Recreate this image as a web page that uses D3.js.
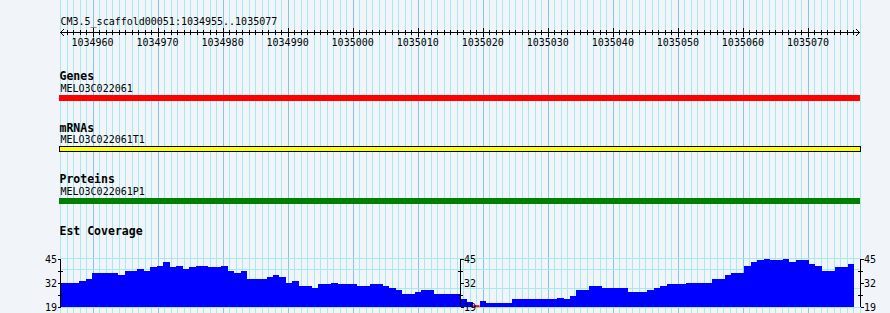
<!DOCTYPE html>
<html>
<head>
<meta charset="utf-8">
<script src="https://cdn.jsdelivr.net/npm/d3@7"></script>
<style>
body{margin:0;background:#f1f5fa}
svg{display:block;font-family:"DejaVu Sans Mono",monospace}
</style>
</head>
<body>
<svg id="chart" width="890" height="313"></svg>
<script>
var refName = 'CM3.5_scaffold00051'
var regionStart = 1034955, regionEnd = 1035077
var trackTitles = ['Genes', 'mRNAs', 'Proteins']
var featureNames = ['MELO3C022061', 'MELO3C022061T1', 'MELO3C022061P1']
var featureColors = ['#ff0000', '#ffff00', '#008000']
var coverageTitle = 'Est Coverage'
var coverageTicks = [45, 32, 19]
var coverageMinorTicks = [38.5, 25.5]
var coverageGrid = [45.8, 39.5, 29.4, 18.6]
// one value per base
var coverage = [
	32, 32, 32, 33, 34, 37.5, 37.5, 37.5, 37.5, 36.3,
	38.5, 38.5, 39.5, 38.5, 40.6, 41.4, 43.4, 40.6, 41.4, 39.5,
	40.6, 41.4, 41.4, 40.6, 40.6, 41.4, 38.5, 37.4, 38.5, 34.1,
	34.1, 34.1, 35.2, 36.3, 35.2, 31.9, 33, 30.3, 30.3, 29.2,
	31.4, 31.4, 31.9, 31.4, 31.4, 31.4, 30.3, 30.3, 31.4, 31.4,
	30.3, 29.2, 28.1, 25.9, 25.9, 27, 28.1, 28.1, 25.9, 25.9,
	25.9, 25.9, 23.2, 21.5, 17, 22.1, 21, 21, 21, 21,
	23.4, 23.4, 23.4, 23.4, 23.4, 23.4, 23.2, 23.7, 23.2, 24.8,
	28.1, 28.1, 30.3, 30.3, 29.2, 29.2, 29.2, 29.2, 27, 27,
	27, 28.1, 29.2, 30.3, 31.4, 31.4, 31.4, 31.9, 31.9, 31.9,
	31.9, 34.1, 34.1, 36.3, 37.4, 37.4, 41.2, 43.4, 44.5, 45.5,
	44.5, 44.5, 45.5, 43.4, 44.5, 44.5, 42.3, 41.2, 38.5, 38.5,
	40.6, 40.6, 42.3
]

var svg = d3.select('#chart')
var W = 890, H = 313
var left = 60, right = 860
svg.append('rect').attr('width', W).attr('height', H).attr('fill', '#f1f5fa')

var x = d3.scaleLinear().domain([regionStart, regionEnd + 1]).range([left, right])
var xCov = d3.scaleLinear().domain([regionStart, regionEnd + 1]).range([left, 854])
var y = d3.scaleLinear().domain([19, 45]).range([306.7, 259])

function px(v) { return Math.round(v) + 0.5 }

// vertical grid, one line per base
var bases = d3.range(regionStart, regionEnd + 2)
svg.append('g').attr('shape-rendering', 'crispEdges')
	.selectAll('line').data(bases).enter().append('line')
	.attr('x1', function(d){ return px(x(d)) }).attr('x2', function(d){ return px(x(d)) })
	.attr('y1', 0).attr('y2', H)
	.attr('stroke', function(d){ return d % 10 == 0 ? '#86c4ea' : '#a6e9ef' })

// horizontal grid in the coverage track
svg.append('g').attr('shape-rendering', 'crispEdges')
	.selectAll('line').data(coverageGrid).enter().append('line')
	.attr('x1', left).attr('x2', right + 1)
	.attr('y1', function(d){ return px(y(d)) }).attr('y2', function(d){ return px(y(d)) })
	.attr('stroke', '#a6e9ef')

// ruler
svg.append('text').attr('x', 60.5).attr('y', 24.5).attr('font-size', 10).attr('fill', '#000')
	.text(refName + ':' + regionStart + '..' + regionEnd)
var ruler = svg.append('g').attr('shape-rendering', 'crispEdges').attr('stroke', '#000')
var ry = 32.5
ruler.append('line').attr('x1', left).attr('x2', right).attr('y1', ry).attr('y2', ry)
ruler.selectAll('line.tk').data(bases.slice(1, -1)).enter().append('line').attr('class', 'tk')
	.attr('x1', function(d){ return px(x(d)) }).attr('x2', function(d){ return px(x(d)) })
	.attr('y1', function(d){ return d % 10 == 0 ? 28 : 30 })
	.attr('y2', function(d){ return d % 10 == 0 ? 37 : 35 })
svg.append('path').attr('fill', 'none').attr('stroke', '#000')
	.attr('d', 'M' + (left + 4) + ',' + (ry - 3.5) + 'L' + (left + 0.5) + ',' + ry + 'L' + (left + 4) + ',' + (ry + 3.5)
		+ 'M' + (right - 4) + ',' + (ry - 3.5) + 'L' + (right - 0.5) + ',' + ry + 'L' + (right - 4) + ',' + (ry + 3.5))
svg.append('g').selectAll('text').data(bases.filter(function(d){ return d % 10 == 0 }))
	.enter().append('text')
	.attr('x', function(d){ return x(d) }).attr('y', 46)
	.attr('text-anchor', 'middle').attr('font-size', 10)
	.text(function(d){ return d })

// feature tracks
var trackTop = [80, 131.7, 183.3]
var barTop = [95, 146.5, 198]
trackTitles.forEach(function(t, i)
{
	svg.append('text').attr('x', 59.5).attr('y', trackTop[i])
		.attr('font-size', 11.5).attr('font-weight', 'bold').text(t)
	svg.append('text').attr('x', 60.5).attr('y', trackTop[i] + 11.5)
		.attr('font-size', 10).text(featureNames[i])
	var r = svg.append('rect').attr('shape-rendering', 'crispEdges')
		.attr('x', x(regionStart) - 1).attr('y', barTop[i])
		.attr('width', x(regionEnd + 1) - x(regionStart) + 1)
		.attr('height', i == 1 ? 5 : 6)
		.attr('fill', featureColors[i])
	if(i == 1) r.attr('stroke', '#000').attr('stroke-width', 1)
})

// coverage
svg.append('text').attr('x', 59.5).attr('y', 234.7)
	.attr('font-size', 11.5).attr('font-weight', 'bold').text(coverageTitle)
var pts = coverage.map(function(v, i){ return [regionStart + i, v] })
pts.push([regionEnd + 1, coverage[coverage.length - 1]])
var area = d3.area().curve(d3.curveStepAfter)
	.x(function(d){ return xCov(d[0]) })
	.y0(y(19))
	.y1(function(d){ return y(Math.max(19, Math.min(45, d[1]))) })
svg.append('path').datum(pts).attr('d', area).attr('fill', '#0000ff').attr('shape-rendering', 'crispEdges')
svg.append('g').selectAll('line').data(pts.slice(0, -1).filter(function(d){ return d[1] < 19 }))
	.enter().append('line')
	.attr('x1', function(d){ return xCov(d[0]) }).attr('x2', function(d){ return xCov(d[0] + 1) })
	.attr('y1', y(19) - 0.5).attr('y2', y(19) - 0.5)
	.attr('stroke', '#ff0000').attr('stroke-width', 2)

function drawAxis(ax, dir)
{
	var g = svg.append('g').attr('shape-rendering', 'crispEdges').attr('stroke', '#000')
	g.append('line').attr('x1', ax + 0.5).attr('x2', ax + 0.5).attr('y1', y(45)).attr('y2', y(19))
	g.selectAll('line.mj').data(coverageTicks).enter().append('line').attr('class', 'mj')
		.attr('x1', ax + 0.5).attr('x2', ax + 0.5 + dir * 3)
		.attr('y1', function(d){ return px(y(d)) }).attr('y2', function(d){ return px(y(d)) })
	g.selectAll('line.mn').data(coverageMinorTicks).enter().append('line').attr('class', 'mn')
		.attr('x1', ax - 2).attr('x2', ax + 3)
		.attr('y1', function(d){ return px(y(d)) }).attr('y2', function(d){ return px(y(d)) })
	svg.append('g').selectAll('text').data(coverageTicks).enter().append('text')
		.attr('x', dir < 0 ? ax - 3 : ax + 4)
		.attr('y', function(d){ return y(d) + 4 })
		.attr('text-anchor', dir < 0 ? 'end' : 'start')
		.attr('font-size', 10)
		.text(function(d){ return d })
}
drawAxis(left, -1)
drawAxis(460, 1)
drawAxis(right, 1)
</script>
</body>
</html>
